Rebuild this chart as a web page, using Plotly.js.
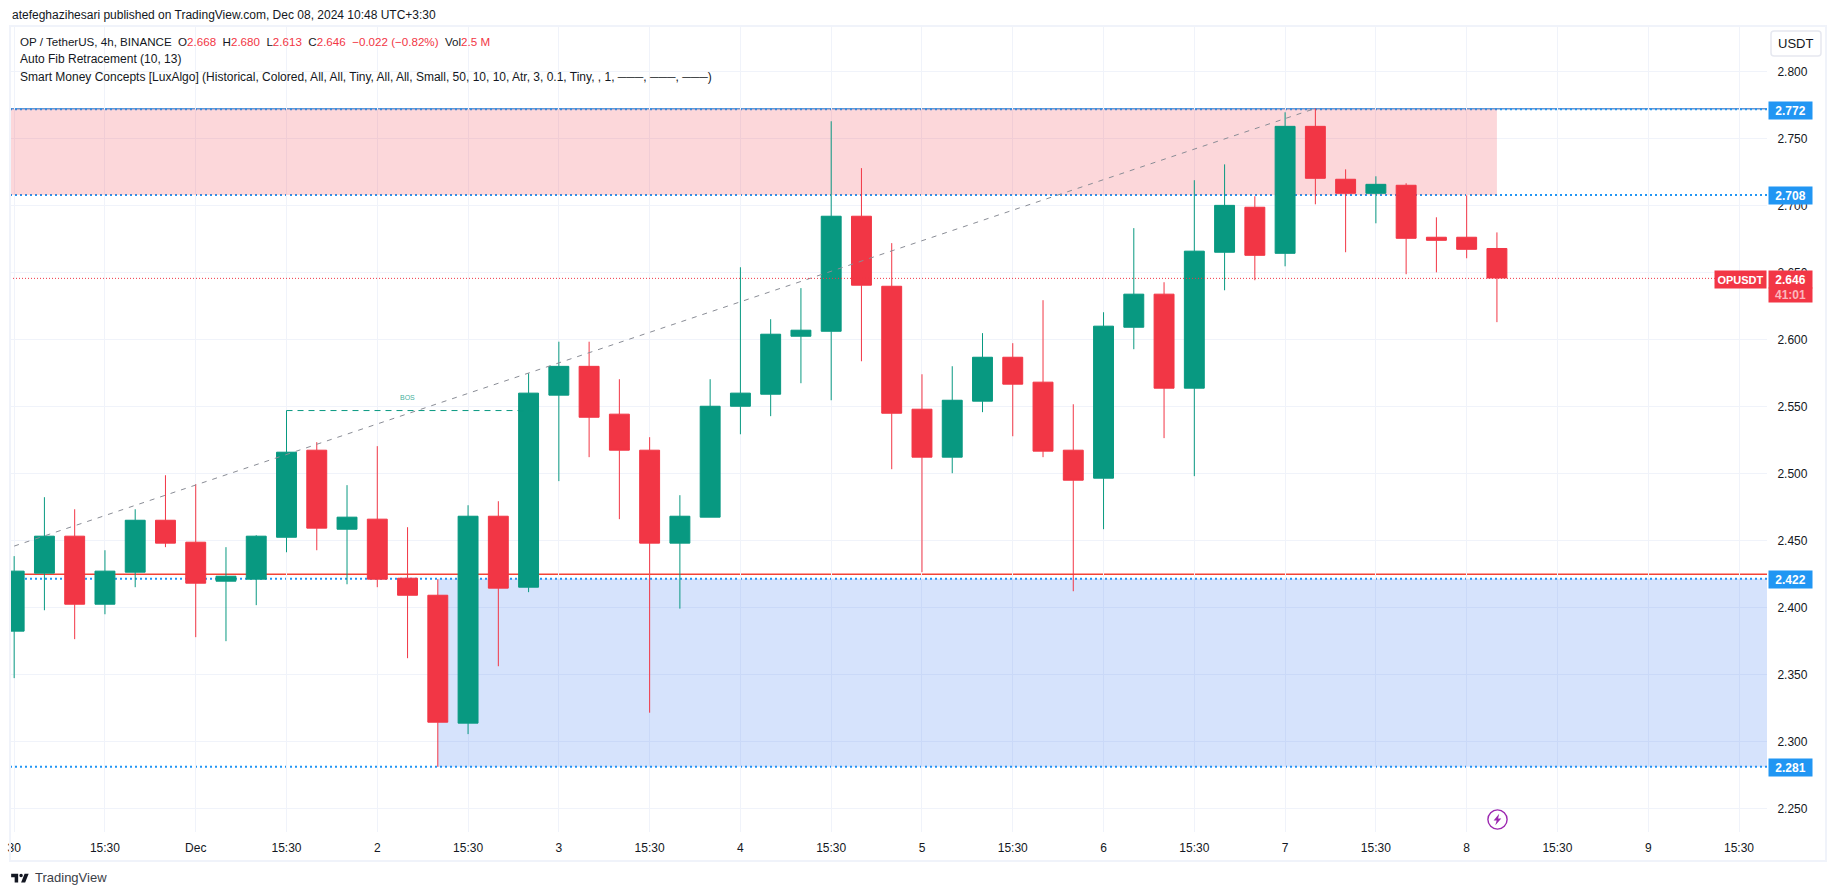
<!DOCTYPE html>
<html>
<head>
<meta charset="utf-8">
<script src="https://cdn.plot.ly/plotly-3.0.1.min.js"></script>
<style>
  html, body { margin: 0; padding: 0; background: #fff; overflow: hidden; }
  #chart { position: absolute; left: 0; top: 0; width: 1835px; height: 895px; }
  #frame { position: absolute; left: 9px; top: 25px; width: 1814px; height: 833px; border: 2px solid #f0f3fa; pointer-events: none; }
  #logo { position: absolute; left: 10px; top: 870px; }
  #bolt { position: absolute; left: 1486px; top: 808px; }
</style>
</head>
<body>
<div id="chart"></div>
<div id="frame"></div>
<svg id="logo" width="21" height="16" viewBox="0 4 36 19"><path fill="#131722" d="M14 6H2v6h6v9h6V6Zm12 15h-7l6-15h7l-6 15Zm-7-9a3 3 0 1 0 0-6 3 3 0 0 0 0 6Z"/></svg>
<svg id="bolt" width="23" height="23" viewBox="0 0 23 23"><circle cx="11.5" cy="11.5" r="9.6" fill="#fff" stroke="#9c27b0" stroke-width="1.4"/><path fill="#9c27b0" d="M13.2 5.8 7.6 12.4h3.1l-1.4 4.8 6-6.8h-3.2z"/></svg>
<script>
// 4h candles, UTC+3:30 chart time
var times = [
  "2024-11-30 03:30","2024-11-30 07:30","2024-11-30 11:30","2024-11-30 15:30","2024-11-30 19:30","2024-11-30 23:30",
  "2024-12-01 03:30","2024-12-01 07:30","2024-12-01 11:30","2024-12-01 15:30","2024-12-01 19:30","2024-12-01 23:30",
  "2024-12-02 03:30","2024-12-02 07:30","2024-12-02 11:30","2024-12-02 15:30","2024-12-02 19:30","2024-12-02 23:30",
  "2024-12-03 03:30","2024-12-03 07:30","2024-12-03 11:30","2024-12-03 15:30","2024-12-03 19:30","2024-12-03 23:30",
  "2024-12-04 03:30","2024-12-04 07:30","2024-12-04 11:30","2024-12-04 15:30","2024-12-04 19:30","2024-12-04 23:30",
  "2024-12-05 03:30","2024-12-05 07:30","2024-12-05 11:30","2024-12-05 15:30","2024-12-05 19:30","2024-12-05 23:30",
  "2024-12-06 03:30","2024-12-06 07:30","2024-12-06 11:30","2024-12-06 15:30","2024-12-06 19:30","2024-12-06 23:30",
  "2024-12-07 03:30","2024-12-07 07:30","2024-12-07 11:30","2024-12-07 15:30","2024-12-07 19:30","2024-12-07 23:30",
  "2024-12-08 03:30","2024-12-08 07:30"
];
var opens = [2.3823,2.4256,2.4532,2.4024,2.4263,2.4651,2.4487,2.4196,2.4211,2.4524,
  2.5174,2.4584,2.4659,2.4218,2.4091,2.3136,2.4681,2.4151,2.5585,2.5800,
  2.5443,2.5174,2.4480,2.4674,2.5502,2.5592,2.6025,2.6062,2.6921,2.6398,
  2.5480,2.5122,2.5540,2.5868,2.5682,2.5174,2.4965,2.6092,2.6339,2.5637,
  2.6652,2.6988,2.6644,2.7592,2.7197,2.7092,2.7152,2.6764,2.6764,2.668];
var highs = [2.4383,2.4823,2.4733,2.4427,2.4733,2.4987,2.4920,2.4450,2.4539,2.5470,
  2.5234,2.4913,2.5204,2.4599,2.4211,2.4763,2.4793,2.5748,2.5984,2.5984,
  2.5704,2.5271,2.4838,2.5704,2.6540,2.6152,2.6384,2.7630,2.7280,2.6720,
  2.5741,2.5801,2.6048,2.5973,2.6294,2.5517,2.6204,2.6832,2.6428,2.7190,
  2.7308,2.7070,2.7697,2.7726,2.7271,2.7219,2.7167,2.6913,2.7077,2.680];
var lows = [2.3472,2.3979,2.3763,2.3949,2.4151,2.4450,2.3778,2.3748,2.4017,2.4412,
  2.4427,2.4173,2.4151,2.3621,2.2810,2.3054,2.3561,2.4114,2.4943,2.5122,
  2.4659,2.3214,2.3991,2.4674,2.5293,2.5428,2.5674,2.5547,2.5838,2.5032,
  2.4263,2.5002,2.5458,2.5278,2.5122,2.4121,2.4584,2.5928,2.5264,2.4980,
  2.6368,2.6443,2.6547,2.7010,2.6652,2.6868,2.6488,2.6502,2.6607,2.613];
var closes = [2.4271,2.4532,2.4024,2.4271,2.4651,2.4480,2.4181,2.4233,2.4532,2.5159,
  2.4592,2.4674,2.4211,2.4091,2.3143,2.4681,2.4144,2.5600,2.5800,2.5420,
  2.5174,2.4480,2.4681,2.5502,2.5600,2.6040,2.6070,2.6921,2.6406,2.5450,
  2.5122,2.5547,2.5868,2.5667,2.5167,2.4950,2.6100,2.6339,2.5637,2.6660,
  2.7002,2.6629,2.7592,2.7204,2.7092,2.7159,2.6756,2.6741,2.6674,2.646];

var priceTicks = [2.25,2.3,2.35,2.4,2.45,2.5,2.55,2.6,2.65,2.7,2.75,2.8];
var timeTicks = [
  "2024-11-30 03:30","2024-11-30 15:30","2024-12-01 03:30","2024-12-01 15:30","2024-12-02 03:30",
  "2024-12-02 15:30","2024-12-03 03:30","2024-12-03 15:30","2024-12-04 03:30","2024-12-04 15:30",
  "2024-12-05 03:30","2024-12-05 15:30","2024-12-06 03:30","2024-12-06 15:30","2024-12-07 03:30",
  "2024-12-07 15:30","2024-12-08 03:30","2024-12-08 15:30","2024-12-09 03:30","2024-12-09 15:30"
];
var timeLabels = ["30","15:30","Dec","15:30","2","15:30","3","15:30","4","15:30","5","15:30","6","15:30","7","15:30","8","15:30","9","15:30"];

var supplyZone = [2.708, 2.772];
var demandZone = [2.281, 2.4215];
var dottedLevels = [2.772, 2.708, 2.4215, 2.281];
var redLevel = 2.4247;
var lastPrice = 2.6457;
var fibX = ["2024-11-30 03:30", "2024-12-07 07:30"];
var fibY = [2.4458, 2.7726];
var bosX = ["2024-12-01 15:30", "2024-12-02 23:30"];
var bosY = [2.547, 2.547];

var UP = "#089981", DOWN = "#f23645", BLUE = "#2196f3";
var FONT = "'Liberation Sans', sans-serif";
var L = 10, R = 1767, T = 27, B = 832;

function px(x) { return (x - L) / (R - L); }
function py(y) { return (B - y) / (B - T); }

function hline(y, color, width, dash, layer) {
  return {type: "line", xref: "paper", yref: "y", x0: 0, x1: 1, y0: y, y1: y, layer: layer || "between",
    line: {color: color, width: width, dash: dash}};
}

var shapes = [
  // the pink zone starts off the left edge of the picture
  {type: "rect", xref: "x", yref: "y", x0: "2024-11-30 00:00", x1: times[49], y0: supplyZone[0], y1: supplyZone[1],
    fillcolor: "rgba(242,54,69,0.2)", line: {width: 0}, layer: "between"},
  {type: "rect", xref: "x", yref: "y", x0: times[14], x1: "2024-12-09 19:12", y0: demandZone[0], y1: demandZone[1],
    fillcolor: "rgba(50,115,240,0.2)", line: {width: 0}, layer: "between"},
  hline(redLevel, "#f44336", 1.5, "solid"),
  hline(supplyZone[1] + 0.0004, "#6f93c8", 1.5, "solid")
];
dottedLevels.forEach(function (lvl) { shapes.push(hline(lvl, BLUE, 2, "2px,3px")); });
shapes.push(hline(lastPrice, DOWN, 1, "1px,2px", "above"));
// USDT button
shapes.push({type: "path", xref: "paper", yref: "paper", layer: "above",
  path: "M " + px(1774) + " " + py(31) + " L " + px(1818) + " " + py(31) +
    " Q " + px(1821) + " " + py(31) + " " + px(1821) + " " + py(34) +
    " L " + px(1821) + " " + py(53) + " Q " + px(1821) + " " + py(56) + " " + px(1818) + " " + py(56) +
    " L " + px(1774) + " " + py(56) + " Q " + px(1771) + " " + py(56) + " " + px(1771) + " " + py(53) +
    " L " + px(1771) + " " + py(34) + " Q " + px(1771) + " " + py(31) + " " + px(1774) + " " + py(31) + " Z",
  fillcolor: "#fff", line: {color: "#e6e8f0", width: 1.5}});

function note(text, x, y, size, color, extra) {
  return Object.assign({xref: "paper", yref: "paper", x: px(x), y: py(y), text: text, showarrow: false,
    xanchor: "left", yanchor: "middle", align: "left", font: {family: FONT, size: size, color: color}}, extra || {});
}

function priceTag(text, y, bg, textColor, h, w) {
  return {xref: "paper", yref: "paper", x: px(1768), y: py(y), text: "<b>" + text + "</b>", showarrow: false, xanchor: "left", yanchor: "top",
    width: w || 43, height: h, bgcolor: bg, borderpad: 0, align: "center", valign: "middle",
    font: {family: FONT, size: 12, color: textColor}};
}

var annotations = [
  note("atefeghazihesari published on TradingView.com, Dec 08, 2024 10:48 UTC+3:30", 10, 15, 12, "#131722"),
  note("OP / TetherUS, 4h, BINANCE\u00a0\u00a0O<span style='color:#f23645'>2.668</span>\u00a0\u00a0H<span style='color:#f23645'>2.680</span>\u00a0\u00a0L<span style='color:#f23645'>2.613</span>\u00a0\u00a0C<span style='color:#f23645'>2.646</span>\u00a0\u00a0<span style='color:#f23645'>\u22120.022 (\u22120.82%)</span>\u00a0\u00a0Vol<span style='color:#f23645'>2.5\u00a0M</span>", 18, 41.5, 11.6, "#131722"),
  note("Auto Fib Retracement (10, 13)", 18, 59, 12, "#131722"),
  note("Smart Money Concepts [LuxAlgo] (Historical, Colored, All, All, Tiny, All, All, Small, 50, 10, 10, Atr, 3, 0.1, Tiny, , 1, \u2500\u2500\u2500, \u2500\u2500\u2500, \u2500\u2500\u2500)", 18, 76.5, 12, "#131722"),
  note("USDT", 1796, 44, 13, "#131722", {xanchor: "center"}),
  note("TradingView", 33, 877.5, 13, "#3b3e47"),
  {xref: "x", yref: "y", x: times[13], y: 2.5565, text: "BOS", showarrow: false,
    font: {family: FONT, size: 7, color: "rgba(8,153,129,0.8)"}},
  priceTag("2.772", 100.5, BLUE, "#fff", 17),
  priceTag("2.708", 186, BLUE, "#fff", 17),
  priceTag("2.422", 570, BLUE, "#fff", 17),
  priceTag("2.281", 758, BLUE, "#fff", 17),
  priceTag("2.646", 270, DOWN, "#fff", 17),
  priceTag("41:01", 287, DOWN, "#fbb6bc", 14),
  {xref: "paper", yref: "paper", x: 1, y: py(270), text: "<b>OPUSDT</b>", showarrow: false, xanchor: "right", yanchor: "top",
    width: 51, height: 17, bgcolor: DOWN, borderpad: 0, font: {family: FONT, size: 11, color: "#fff"}}
];

var traces = [
  {type: "scatter", mode: "lines", x: fibX, y: fibY, hoverinfo: "skip",
    line: {color: "#8a8d96", width: 1, dash: "5px,6px"}},
  {type: "scatter", mode: "lines", x: bosX, y: bosY, hoverinfo: "skip",
    line: {color: UP, width: 1, dash: "6px,5px"}},
  {type: "candlestick", x: times, open: opens, high: highs, low: lows, close: closes, whiskerwidth: 0,
    increasing: {line: {color: UP, width: 1}, fillcolor: UP},
    decreasing: {line: {color: DOWN, width: 1}, fillcolor: DOWN}}
];

var layout = {
  width: 1835, height: 895,
  margin: {l: L, r: 1835 - R, t: T, b: 895 - B, pad: 0},
  paper_bgcolor: "#fff", plot_bgcolor: "#fff",
  showlegend: false, boxgap: 0.06,
  font: {family: FONT, size: 12, color: "#131722"},
  xaxis: {
    type: "date", range: ["2024-11-30 02:57", "2024-12-09 19:12"],
    tickmode: "array", tickvals: timeTicks, ticktext: timeLabels,
    showgrid: true, gridcolor: "#f0f3fa", gridwidth: 1, zeroline: false, showline: false,
    ticks: "outside", ticklen: 5, tickcolor: "#fff",
    rangeslider: {visible: false}, tickangle: 0, tickfont: {family: FONT, size: 12, color: "#131722"}
  },
  yaxis: {
    side: "right", range: [2.23232, 2.83338],
    tickmode: "array", tickvals: priceTicks, tickformat: ".3f",
    showgrid: true, gridcolor: "#f0f3fa", gridwidth: 1, zeroline: false, showline: false,
    ticks: "outside", ticklen: 7, tickcolor: "#fff", tickfont: {family: FONT, size: 12, color: "#131722"}
  },
  shapes: shapes,
  annotations: annotations
};

Plotly.newPlot("chart", traces, layout, {displayModeBar: false, staticPlot: true});
</script>
</body>
</html>
